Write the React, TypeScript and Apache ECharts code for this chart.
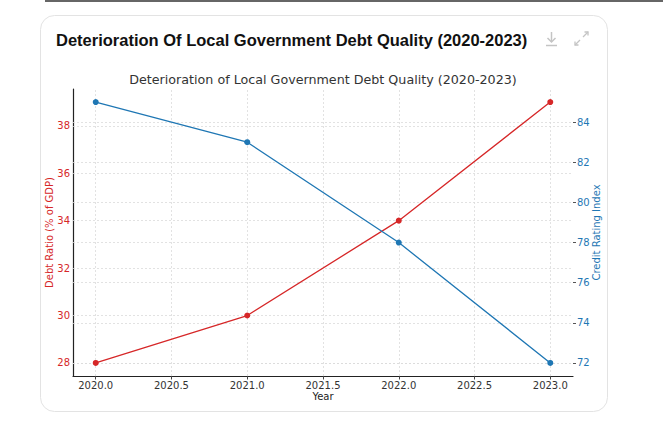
import React, { useEffect, useRef } from "react";
import * as echarts from "echarts";

const years = [2020, 2021, 2022, 2023];
const debtRatio = [28, 30, 34, 39];
const creditRating = [85, 83, 78, 72];
const xTicks = [2020.0, 2020.5, 2021.0, 2021.5, 2022.0, 2022.5, 2023.0];
const leftTicks = [28, 30, 32, 34, 36, 38];
const rightTicks = [72, 74, 76, 78, 80, 82, 84];

const RED = "#d62728";
const BLUE = "#1f77b4";
const FONT = "DejaVu Sans";

export default function App() {
  const ref = useRef<HTMLDivElement>(null);
  useEffect(() => {
    if (!ref.current) return;
    const chart = echarts.init(ref.current, null, { renderer: "svg" });
    const gridLine = { color: "#dadada", width: 0.8, type: [2, 2] as any };
    const option: any = {
      animation: false,
      backgroundColor: "#ffffff",
      textStyle: { fontFamily: FONT },
      graphic: [
        {
          type: "line",
          shape: { x1: 45, y1: 1, x2: 663, y2: 1 },
          style: { stroke: "#333333", lineWidth: 1.5 },
          z: -10,
        },
        {
          type: "rect",
          shape: { x: 40.5, y: 15.5, width: 567, height: 396, r: 14 },
          style: { fill: "#ffffff", stroke: "#e3e3e3", lineWidth: 1 },
          z: -10,
        },
        {
          type: "text",
          x: 56,
          y: 40,
          style: {
            text: "Deterioration Of Local Government Debt Quality (2020-2023)",
            font: "bold 16.5px 'Liberation Sans', Arial, sans-serif",
            fill: "#111111",
            verticalAlign: "middle",
          },
        },
        {
          type: "text",
          x: 323,
          y: 79,
          style: {
            text: "Deterioration of Local Government Debt Quality (2020-2023)",
            font: "12.7px 'DejaVu Sans', sans-serif",
            fill: "#333333",
            align: "center",
            verticalAlign: "middle",
          },
        },
        // download icon
        {
          type: "group",
          children: [
            { type: "line", shape: { x1: 551.5, y1: 32, x2: 551.5, y2: 42 }, style: { stroke: "#c4c4c4", lineWidth: 1.5 } },
            { type: "polyline", shape: { points: [[547.5, 38], [551.5, 42], [555.5, 38]] }, style: { stroke: "#c4c4c4", lineWidth: 1.5, fill: null } },
            { type: "line", shape: { x1: 546, y1: 45.5, x2: 557, y2: 45.5 }, style: { stroke: "#c4c4c4", lineWidth: 1.5 } },
          ],
        },
        // expand icon
        {
          type: "group",
          children: [
            { type: "line", shape: { x1: 583, y1: 37, x2: 588, y2: 32 }, style: { stroke: "#c4c4c4", lineWidth: 1.3 } },
            { type: "polyline", shape: { points: [[584.5, 32], [588, 32], [588, 35.5]] }, style: { stroke: "#c4c4c4", lineWidth: 1.3, fill: null } },
            { type: "line", shape: { x1: 575, y1: 45, x2: 580, y2: 40 }, style: { stroke: "#c4c4c4", lineWidth: 1.3 } },
            { type: "polyline", shape: { points: [[575, 41.5], [575, 45], [578.5, 45]] }, style: { stroke: "#c4c4c4", lineWidth: 1.3, fill: null } },
          ],
        },
      ],
      grid: { left: 73, right: 90, top: 89, bottom: 47, containLabel: false },
      xAxis: {
        type: "value",
        min: 2019.85,
        max: 2023.15,
        name: "Year",
        nameLocation: "middle",
        nameGap: 15,
        nameMoveOverlap: false,
        nameTextStyle: { color: "#222222", fontSize: 10, fontFamily: FONT },
        axisLine: { show: true, lineStyle: { color: "#222222", width: 1.2 } },
        axisTick: { show: true, length: 3.5, lineStyle: { color: "#444444" }, customValues: xTicks },
        axisLabel: {
          color: "#333333",
          fontSize: 10,
          fontFamily: FONT,
          margin: 4,
          customValues: xTicks,
          formatter: (v: number) => v.toFixed(1),
        },
        splitLine: { show: false },
      },
      yAxis: [
        {
          type: "value",
          min: 27.45,
          max: 39.55,
          position: "left",
          name: "Debt Ratio (% of GDP)",
          nameLocation: "middle",
          nameGap: 19,
          nameRotate: 90,
          nameMoveOverlap: false,
          nameTextStyle: { color: RED, fontSize: 10, fontFamily: FONT },
          axisLine: { show: true, lineStyle: { color: "#222222", width: 1.2 } },
          axisTick: { show: false, customValues: leftTicks },
          axisLabel: { color: RED, fontSize: 10, fontFamily: FONT, margin: 3, customValues: leftTicks },
          splitLine: { show: false },
        },
        {
          type: "value",
          min: 71.35,
          max: 85.65,
          position: "right",
          name: "Credit Rating Index",
          nameLocation: "middle",
          nameGap: 18,
          nameRotate: 90,
          nameMoveOverlap: false,
          nameTextStyle: { color: BLUE, fontSize: 10, fontFamily: FONT },
          axisLine: { show: false },
          axisTick: { show: true, length: 3, lineStyle: { color: "#555555" }, customValues: rightTicks },
          axisLabel: { color: BLUE, fontSize: 10, fontFamily: FONT, margin: 4, customValues: rightTicks },
          splitLine: { show: false },
        },
      ],
      series: [
        {
          type: "line",
          name: "Debt Ratio",
          yAxisIndex: 0,
          data: years.map((y, i) => [y, debtRatio[i]]),
          symbol: "circle",
          symbolSize: 6,
          itemStyle: { color: RED },
          lineStyle: { color: RED, width: 1.3 },
          z: 3,
          markLine: {
            silent: true,
            symbol: "none",
            label: { show: false },
            lineStyle: gridLine,
            z: 1,
            data: [
              ...xTicks.map((v) => ({ xAxis: v })),
              ...leftTicks.map((v) => ({ yAxis: v })),
            ],
          },
        },
        {
          type: "line",
          name: "Credit Rating",
          yAxisIndex: 1,
          data: years.map((y, i) => [y, creditRating[i]]),
          symbol: "circle",
          symbolSize: 6,
          itemStyle: { color: BLUE },
          lineStyle: { color: BLUE, width: 1.3 },
          z: 3,
          markLine: {
            silent: true,
            symbol: "none",
            label: { show: false },
            lineStyle: gridLine,
            z: 1,
            data: rightTicks.map((v) => ({ yAxis: v })),
          },
        },
      ],
    };
    chart.setOption(option);
    return () => chart.dispose();
  }, []);
  return (
    <div
      ref={ref}
      style={{ position: "fixed", left: 0, top: 0, width: 663, height: 423 }}
    />
  );
}
